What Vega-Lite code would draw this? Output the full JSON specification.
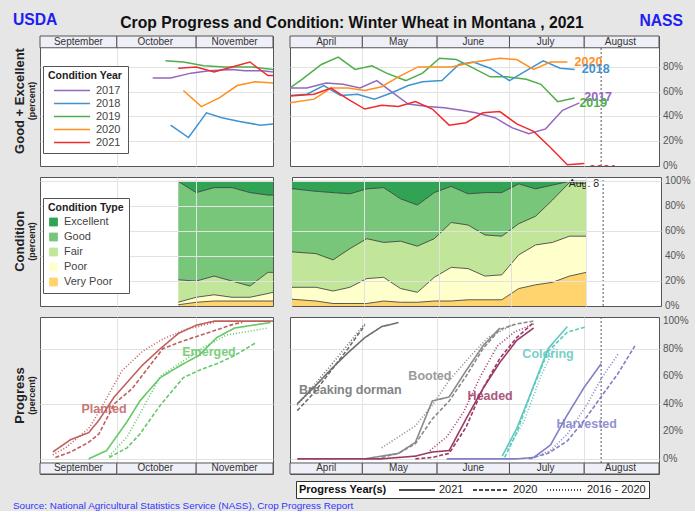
{
"$schema": "https://vega.github.io/schema/vega-lite/v6.json",
"background": "#e6e6e6",
"padding": {"left": 12, "top": 12, "right": 4, "bottom": 0},
"config": {
  "font": "Liberation Sans",
  "view": {"stroke": "#555555", "strokeWidth": 1, "fill": "#ffffff"},
  "axis": {"gridColor": "#e2e2e2", "gridWidth": 1, "labelFont": "Liberation Sans"},
  "legend": {"labelFont": "Liberation Sans", "titleFont": "Liberation Sans"},
  "title": {"font": "Liberation Sans"},
  "text": {"font": "Liberation Sans"}
},
"title": {"text": "Crop Progress and Condition: Winter Wheat in Montana , 2021", "anchor": "middle", "frame": "bounds", "fontSize": 15.7, "fontWeight": "bold", "color": "#111111", "offset": -19},
"datasets": {
  "monthsFall": [
    {"m": "September", "start": "2020-09-01", "end": "2020-10-01", "mid": "2020-09-16"},
    {"m": "October", "start": "2020-10-01", "end": "2020-11-01", "mid": "2020-10-16"},
    {"m": "November", "start": "2020-11-01", "end": "2020-12-01", "mid": "2020-11-16"}
  ],
  "monthsSpring": [
    {"m": "April", "start": "2021-04-01", "end": "2021-05-01", "mid": "2021-04-16"},
    {"m": "May", "start": "2021-05-01", "end": "2021-06-01", "mid": "2021-05-16"},
    {"m": "June", "start": "2021-06-01", "end": "2021-07-01", "mid": "2021-06-16"},
    {"m": "July", "start": "2021-07-01", "end": "2021-08-01", "mid": "2021-07-16"},
    {"m": "August", "start": "2021-08-01", "end": "2021-09-01", "mid": "2021-08-16"}
  ],
  "reportDate": [{"d": "2021-08-08", "label": "Aug.  8"}],
  "pctTicks80": [{"v": 0, "t": "0%"}, {"v": 20, "t": "20%"}, {"v": 40, "t": "40%"}, {"v": 60, "t": "60%"}, {"v": 80, "t": "80%"}],
  "pctTicks100": [{"v": 0, "t": "0%"}, {"v": 20, "t": "20%"}, {"v": 40, "t": "40%"}, {"v": 60, "t": "60%"}, {"v": 80, "t": "80%"}, {"v": 100, "t": "100%"}],
  "condFall": [
    {"year": "2017", "date": "2020-10-15", "pct": 71}, {"year": "2017", "date": "2020-10-22", "pct": 71}, {"year": "2017", "date": "2020-10-30", "pct": 75}, {"year": "2017", "date": "2020-11-06", "pct": 77}, {"year": "2017", "date": "2020-11-15", "pct": 78}, {"year": "2017", "date": "2020-11-20", "pct": 77}, {"year": "2017", "date": "2020-11-27", "pct": 77}, {"year": "2017", "date": "2020-12-01", "pct": 76},
    {"year": "2018", "date": "2020-10-22", "pct": 33}, {"year": "2018", "date": "2020-10-29", "pct": 23}, {"year": "2018", "date": "2020-11-05", "pct": 43}, {"year": "2018", "date": "2020-11-11", "pct": 39}, {"year": "2018", "date": "2020-11-18", "pct": 36}, {"year": "2018", "date": "2020-11-26", "pct": 33}, {"year": "2018", "date": "2020-12-01", "pct": 34},
    {"year": "2019", "date": "2020-10-20", "pct": 85}, {"year": "2019", "date": "2020-10-27", "pct": 84}, {"year": "2019", "date": "2020-11-04", "pct": 81}, {"year": "2019", "date": "2020-11-12", "pct": 80}, {"year": "2019", "date": "2020-11-23", "pct": 80}, {"year": "2019", "date": "2020-12-01", "pct": 78},
    {"year": "2020", "date": "2020-10-27", "pct": 61}, {"year": "2020", "date": "2020-11-03", "pct": 48}, {"year": "2020", "date": "2020-11-10", "pct": 55}, {"year": "2020", "date": "2020-11-17", "pct": 65}, {"year": "2020", "date": "2020-11-24", "pct": 68}, {"year": "2020", "date": "2020-12-01", "pct": 67},
    {"year": "2021", "date": "2020-10-25", "pct": 79}, {"year": "2021", "date": "2020-11-01", "pct": 80}, {"year": "2021", "date": "2020-11-08", "pct": 76}, {"year": "2021", "date": "2020-11-15", "pct": 80}, {"year": "2021", "date": "2020-11-22", "pct": 84}, {"year": "2021", "date": "2020-11-29", "pct": 73}, {"year": "2021", "date": "2020-12-01", "pct": 73}
  ],
  "condSpring": [
    {"year": "2019", "date": "2021-04-01", "pct": 63}, {"year": "2019", "date": "2021-04-06", "pct": 70}, {"year": "2019", "date": "2021-04-14", "pct": 82}, {"year": "2019", "date": "2021-04-21", "pct": 88}, {"year": "2019", "date": "2021-04-28", "pct": 78}, {"year": "2019", "date": "2021-05-05", "pct": 81}, {"year": "2019", "date": "2021-05-11", "pct": 75}, {"year": "2019", "date": "2021-05-19", "pct": 69}, {"year": "2019", "date": "2021-05-26", "pct": 75}, {"year": "2019", "date": "2021-06-02", "pct": 87}, {"year": "2019", "date": "2021-06-09", "pct": 86}, {"year": "2019", "date": "2021-06-15", "pct": 80}, {"year": "2019", "date": "2021-06-23", "pct": 72}, {"year": "2019", "date": "2021-06-30", "pct": 72}, {"year": "2019", "date": "2021-07-08", "pct": 70}, {"year": "2019", "date": "2021-07-14", "pct": 66}, {"year": "2019", "date": "2021-07-21", "pct": 52}, {"year": "2019", "date": "2021-07-28", "pct": 55},
    {"year": "2017", "date": "2021-04-01", "pct": 63}, {"year": "2017", "date": "2021-04-08", "pct": 63}, {"year": "2017", "date": "2021-04-16", "pct": 67}, {"year": "2017", "date": "2021-04-23", "pct": 66}, {"year": "2017", "date": "2021-04-30", "pct": 63}, {"year": "2017", "date": "2021-05-07", "pct": 69}, {"year": "2017", "date": "2021-05-13", "pct": 60}, {"year": "2017", "date": "2021-05-20", "pct": 50}, {"year": "2017", "date": "2021-05-28", "pct": 48}, {"year": "2017", "date": "2021-06-04", "pct": 47}, {"year": "2017", "date": "2021-06-11", "pct": 45}, {"year": "2017", "date": "2021-06-17", "pct": 43}, {"year": "2017", "date": "2021-06-25", "pct": 39}, {"year": "2017", "date": "2021-07-02", "pct": 31}, {"year": "2017", "date": "2021-07-09", "pct": 26}, {"year": "2017", "date": "2021-07-16", "pct": 30}, {"year": "2017", "date": "2021-07-23", "pct": 45}, {"year": "2017", "date": "2021-07-30", "pct": 51},
    {"year": "2018", "date": "2021-04-01", "pct": 57}, {"year": "2018", "date": "2021-04-08", "pct": 58}, {"year": "2018", "date": "2021-04-15", "pct": 65}, {"year": "2018", "date": "2021-04-22", "pct": 57}, {"year": "2018", "date": "2021-04-29", "pct": 58}, {"year": "2018", "date": "2021-05-06", "pct": 54}, {"year": "2018", "date": "2021-05-13", "pct": 59}, {"year": "2018", "date": "2021-05-20", "pct": 65}, {"year": "2018", "date": "2021-05-26", "pct": 68}, {"year": "2018", "date": "2021-06-03", "pct": 69}, {"year": "2018", "date": "2021-06-10", "pct": 82}, {"year": "2018", "date": "2021-06-16", "pct": 84}, {"year": "2018", "date": "2021-06-23", "pct": 79}, {"year": "2018", "date": "2021-07-01", "pct": 69}, {"year": "2018", "date": "2021-07-08", "pct": 77}, {"year": "2018", "date": "2021-07-15", "pct": 85}, {"year": "2018", "date": "2021-07-22", "pct": 79}, {"year": "2018", "date": "2021-07-28", "pct": 78},
    {"year": "2020", "date": "2021-04-01", "pct": 51}, {"year": "2020", "date": "2021-04-11", "pct": 54}, {"year": "2020", "date": "2021-04-18", "pct": 63}, {"year": "2020", "date": "2021-04-25", "pct": 63}, {"year": "2020", "date": "2021-05-02", "pct": 61}, {"year": "2020", "date": "2021-05-09", "pct": 64}, {"year": "2020", "date": "2021-05-16", "pct": 72}, {"year": "2020", "date": "2021-05-24", "pct": 80}, {"year": "2020", "date": "2021-05-31", "pct": 80}, {"year": "2020", "date": "2021-06-07", "pct": 80}, {"year": "2020", "date": "2021-06-14", "pct": 83}, {"year": "2020", "date": "2021-06-20", "pct": 85}, {"year": "2020", "date": "2021-06-27", "pct": 87}, {"year": "2020", "date": "2021-07-04", "pct": 86}, {"year": "2020", "date": "2021-07-11", "pct": 78}, {"year": "2020", "date": "2021-07-18", "pct": 84}, {"year": "2020", "date": "2021-07-25", "pct": 84},
    {"year": "2021", "date": "2021-03-28", "pct": 56}, {"year": "2021", "date": "2021-04-11", "pct": 58}, {"year": "2021", "date": "2021-04-18", "pct": 63}, {"year": "2021", "date": "2021-04-25", "pct": 54}, {"year": "2021", "date": "2021-05-02", "pct": 46}, {"year": "2021", "date": "2021-05-09", "pct": 49}, {"year": "2021", "date": "2021-05-16", "pct": 48}, {"year": "2021", "date": "2021-05-23", "pct": 52}, {"year": "2021", "date": "2021-05-30", "pct": 46}, {"year": "2021", "date": "2021-06-06", "pct": 33}, {"year": "2021", "date": "2021-06-13", "pct": 35}, {"year": "2021", "date": "2021-06-20", "pct": 43}, {"year": "2021", "date": "2021-06-27", "pct": 44}, {"year": "2021", "date": "2021-07-04", "pct": 34}, {"year": "2021", "date": "2021-07-11", "pct": 28}, {"year": "2021", "date": "2021-07-18", "pct": 15}, {"year": "2021", "date": "2021-07-25", "pct": 1}, {"year": "2021", "date": "2021-08-01", "pct": 2}
  ],
  "condSpringLabels": [
    {"year": "2020", "date": "2021-07-28", "pct": 84},
    {"year": "2018", "date": "2021-07-31", "pct": 78},
    {"year": "2017", "date": "2021-08-01", "pct": 56},
    {"year": "2019", "date": "2021-07-30", "pct": 51},
    {"year": "2021", "date": "2021-08-03", "pct": -3}
  ],
  "typeFall": [
    {"date": "2020-10-25", "type": "Very Poor", "level": 1, "pct": 1}, {"date": "2020-10-25", "type": "Poor", "level": 2, "pct": 2}, {"date": "2020-10-25", "type": "Fair", "level": 3, "pct": 18}, {"date": "2020-10-25", "type": "Good", "level": 4, "pct": 79}, {"date": "2020-10-25", "type": "Excellent", "level": 5, "pct": 0},
    {"date": "2020-11-01", "type": "Very Poor", "level": 1, "pct": 3}, {"date": "2020-11-01", "type": "Poor", "level": 2, "pct": 4}, {"date": "2020-11-01", "type": "Fair", "level": 3, "pct": 13}, {"date": "2020-11-01", "type": "Good", "level": 4, "pct": 71}, {"date": "2020-11-01", "type": "Excellent", "level": 5, "pct": 9},
    {"date": "2020-11-08", "type": "Very Poor", "level": 1, "pct": 4}, {"date": "2020-11-08", "type": "Poor", "level": 2, "pct": 5}, {"date": "2020-11-08", "type": "Fair", "level": 3, "pct": 15}, {"date": "2020-11-08", "type": "Good", "level": 4, "pct": 71}, {"date": "2020-11-08", "type": "Excellent", "level": 5, "pct": 5},
    {"date": "2020-11-15", "type": "Very Poor", "level": 1, "pct": 4}, {"date": "2020-11-15", "type": "Poor", "level": 2, "pct": 3}, {"date": "2020-11-15", "type": "Fair", "level": 3, "pct": 13}, {"date": "2020-11-15", "type": "Good", "level": 4, "pct": 75}, {"date": "2020-11-15", "type": "Excellent", "level": 5, "pct": 5},
    {"date": "2020-11-22", "type": "Very Poor", "level": 1, "pct": 4}, {"date": "2020-11-22", "type": "Poor", "level": 2, "pct": 3}, {"date": "2020-11-22", "type": "Fair", "level": 3, "pct": 9}, {"date": "2020-11-22", "type": "Good", "level": 4, "pct": 75}, {"date": "2020-11-22", "type": "Excellent", "level": 5, "pct": 9},
    {"date": "2020-11-29", "type": "Very Poor", "level": 1, "pct": 4}, {"date": "2020-11-29", "type": "Poor", "level": 2, "pct": 6}, {"date": "2020-11-29", "type": "Fair", "level": 3, "pct": 17}, {"date": "2020-11-29", "type": "Good", "level": 4, "pct": 62}, {"date": "2020-11-29", "type": "Excellent", "level": 5, "pct": 11},
    {"date": "2020-12-01", "type": "Very Poor", "level": 1, "pct": 4}, {"date": "2020-12-01", "type": "Poor", "level": 2, "pct": 7}, {"date": "2020-12-01", "type": "Fair", "level": 3, "pct": 16}, {"date": "2020-12-01", "type": "Good", "level": 4, "pct": 62}, {"date": "2020-12-01", "type": "Excellent", "level": 5, "pct": 11}
  ],
  "typeSpring": [
    {"date": "2021-03-28", "type": "Very Poor", "level": 1, "pct": 6}, {"date": "2021-03-28", "type": "Poor", "level": 2, "pct": 9}, {"date": "2021-03-28", "type": "Fair", "level": 3, "pct": 29}, {"date": "2021-03-28", "type": "Good", "level": 4, "pct": 51}, {"date": "2021-03-28", "type": "Excellent", "level": 5, "pct": 5},
    {"date": "2021-04-11", "type": "Very Poor", "level": 1, "pct": 4}, {"date": "2021-04-11", "type": "Poor", "level": 2, "pct": 11}, {"date": "2021-04-11", "type": "Fair", "level": 3, "pct": 27}, {"date": "2021-04-11", "type": "Good", "level": 4, "pct": 50}, {"date": "2021-04-11", "type": "Excellent", "level": 5, "pct": 8},
    {"date": "2021-04-18", "type": "Very Poor", "level": 1, "pct": 2}, {"date": "2021-04-18", "type": "Poor", "level": 2, "pct": 10}, {"date": "2021-04-18", "type": "Fair", "level": 3, "pct": 25}, {"date": "2021-04-18", "type": "Good", "level": 4, "pct": 54}, {"date": "2021-04-18", "type": "Excellent", "level": 5, "pct": 9},
    {"date": "2021-04-25", "type": "Very Poor", "level": 1, "pct": 2}, {"date": "2021-04-25", "type": "Poor", "level": 2, "pct": 13}, {"date": "2021-04-25", "type": "Fair", "level": 3, "pct": 31}, {"date": "2021-04-25", "type": "Good", "level": 4, "pct": 44}, {"date": "2021-04-25", "type": "Excellent", "level": 5, "pct": 10},
    {"date": "2021-05-02", "type": "Very Poor", "level": 1, "pct": 2}, {"date": "2021-05-02", "type": "Poor", "level": 2, "pct": 20}, {"date": "2021-05-02", "type": "Fair", "level": 3, "pct": 32}, {"date": "2021-05-02", "type": "Good", "level": 4, "pct": 40}, {"date": "2021-05-02", "type": "Excellent", "level": 5, "pct": 6},
    {"date": "2021-05-09", "type": "Very Poor", "level": 1, "pct": 4}, {"date": "2021-05-09", "type": "Poor", "level": 2, "pct": 19}, {"date": "2021-05-09", "type": "Fair", "level": 3, "pct": 28}, {"date": "2021-05-09", "type": "Good", "level": 4, "pct": 44}, {"date": "2021-05-09", "type": "Excellent", "level": 5, "pct": 5},
    {"date": "2021-05-16", "type": "Very Poor", "level": 1, "pct": 3}, {"date": "2021-05-16", "type": "Poor", "level": 2, "pct": 11}, {"date": "2021-05-16", "type": "Fair", "level": 3, "pct": 38}, {"date": "2021-05-16", "type": "Good", "level": 4, "pct": 34}, {"date": "2021-05-16", "type": "Excellent", "level": 5, "pct": 14},
    {"date": "2021-05-23", "type": "Very Poor", "level": 1, "pct": 3}, {"date": "2021-05-23", "type": "Poor", "level": 2, "pct": 8}, {"date": "2021-05-23", "type": "Fair", "level": 3, "pct": 37}, {"date": "2021-05-23", "type": "Good", "level": 4, "pct": 33}, {"date": "2021-05-23", "type": "Excellent", "level": 5, "pct": 19},
    {"date": "2021-05-30", "type": "Very Poor", "level": 1, "pct": 4}, {"date": "2021-05-30", "type": "Poor", "level": 2, "pct": 19}, {"date": "2021-05-30", "type": "Fair", "level": 3, "pct": 31}, {"date": "2021-05-30", "type": "Good", "level": 4, "pct": 37}, {"date": "2021-05-30", "type": "Excellent", "level": 5, "pct": 9},
    {"date": "2021-06-06", "type": "Very Poor", "level": 1, "pct": 4}, {"date": "2021-06-06", "type": "Poor", "level": 2, "pct": 27}, {"date": "2021-06-06", "type": "Fair", "level": 3, "pct": 36}, {"date": "2021-06-06", "type": "Good", "level": 4, "pct": 29}, {"date": "2021-06-06", "type": "Excellent", "level": 5, "pct": 4},
    {"date": "2021-06-13", "type": "Very Poor", "level": 1, "pct": 5}, {"date": "2021-06-13", "type": "Poor", "level": 2, "pct": 25}, {"date": "2021-06-13", "type": "Fair", "level": 3, "pct": 35}, {"date": "2021-06-13", "type": "Good", "level": 4, "pct": 25}, {"date": "2021-06-13", "type": "Excellent", "level": 5, "pct": 10},
    {"date": "2021-06-20", "type": "Very Poor", "level": 1, "pct": 5}, {"date": "2021-06-20", "type": "Poor", "level": 2, "pct": 19}, {"date": "2021-06-20", "type": "Fair", "level": 3, "pct": 33}, {"date": "2021-06-20", "type": "Good", "level": 4, "pct": 34}, {"date": "2021-06-20", "type": "Excellent", "level": 5, "pct": 9},
    {"date": "2021-06-27", "type": "Very Poor", "level": 1, "pct": 5}, {"date": "2021-06-27", "type": "Poor", "level": 2, "pct": 20}, {"date": "2021-06-27", "type": "Fair", "level": 3, "pct": 31}, {"date": "2021-06-27", "type": "Good", "level": 4, "pct": 35}, {"date": "2021-06-27", "type": "Excellent", "level": 5, "pct": 9},
    {"date": "2021-07-04", "type": "Very Poor", "level": 1, "pct": 14}, {"date": "2021-07-04", "type": "Poor", "level": 2, "pct": 27}, {"date": "2021-07-04", "type": "Fair", "level": 3, "pct": 25}, {"date": "2021-07-04", "type": "Good", "level": 4, "pct": 32}, {"date": "2021-07-04", "type": "Excellent", "level": 5, "pct": 2},
    {"date": "2021-07-11", "type": "Very Poor", "level": 1, "pct": 17}, {"date": "2021-07-11", "type": "Poor", "level": 2, "pct": 32}, {"date": "2021-07-11", "type": "Fair", "level": 3, "pct": 23}, {"date": "2021-07-11", "type": "Good", "level": 4, "pct": 22}, {"date": "2021-07-11", "type": "Excellent", "level": 5, "pct": 6},
    {"date": "2021-07-18", "type": "Very Poor", "level": 1, "pct": 19}, {"date": "2021-07-18", "type": "Poor", "level": 2, "pct": 32}, {"date": "2021-07-18", "type": "Fair", "level": 3, "pct": 34}, {"date": "2021-07-18", "type": "Good", "level": 4, "pct": 12}, {"date": "2021-07-18", "type": "Excellent", "level": 5, "pct": 3},
    {"date": "2021-07-25", "type": "Very Poor", "level": 1, "pct": 24}, {"date": "2021-07-25", "type": "Poor", "level": 2, "pct": 32}, {"date": "2021-07-25", "type": "Fair", "level": 3, "pct": 43}, {"date": "2021-07-25", "type": "Good", "level": 4, "pct": 1}, {"date": "2021-07-25", "type": "Excellent", "level": 5, "pct": 0},
    {"date": "2021-08-01", "type": "Very Poor", "level": 1, "pct": 27}, {"date": "2021-08-01", "type": "Poor", "level": 2, "pct": 29}, {"date": "2021-08-01", "type": "Fair", "level": 3, "pct": 42}, {"date": "2021-08-01", "type": "Good", "level": 4, "pct": 2}, {"date": "2021-08-01", "type": "Excellent", "level": 5, "pct": 0}
  ],
  "progFall": [
    {"stage": "Planted", "yr": "2020", "date": "2020-09-06", "pct": 5}, {"stage": "Planted", "yr": "2020", "date": "2020-09-13", "pct": 14}, {"stage": "Planted", "yr": "2020", "date": "2020-09-20", "pct": 19}, {"stage": "Planted", "yr": "2020", "date": "2020-09-24", "pct": 28}, {"stage": "Planted", "yr": "2020", "date": "2020-09-30", "pct": 45}, {"stage": "Planted", "yr": "2020", "date": "2020-10-11", "pct": 68}, {"stage": "Planted", "yr": "2020", "date": "2020-10-18", "pct": 80}, {"stage": "Planted", "yr": "2020", "date": "2020-10-25", "pct": 91}, {"stage": "Planted", "yr": "2020", "date": "2020-11-01", "pct": 97}, {"stage": "Planted", "yr": "2020", "date": "2020-11-08", "pct": 100}, {"stage": "Planted", "yr": "2020", "date": "2020-12-01", "pct": 100},
    {"stage": "Planted", "yr": "2019", "date": "2020-09-07", "pct": 1}, {"stage": "Planted", "yr": "2019", "date": "2020-09-13", "pct": 5}, {"stage": "Planted", "yr": "2019", "date": "2020-09-20", "pct": 12}, {"stage": "Planted", "yr": "2019", "date": "2020-09-24", "pct": 18}, {"stage": "Planted", "yr": "2019", "date": "2020-09-30", "pct": 40}, {"stage": "Planted", "yr": "2019", "date": "2020-10-07", "pct": 51}, {"stage": "Planted", "yr": "2019", "date": "2020-10-19", "pct": 80}, {"stage": "Planted", "yr": "2019", "date": "2020-10-26", "pct": 85}, {"stage": "Planted", "yr": "2019", "date": "2020-11-03", "pct": 90}, {"stage": "Planted", "yr": "2019", "date": "2020-11-16", "pct": 98}, {"stage": "Planted", "yr": "2019", "date": "2020-11-19", "pct": 99},
    {"stage": "Planted", "yr": "2015 - 2019", "date": "2020-09-06", "pct": 3}, {"stage": "Planted", "yr": "2015 - 2019", "date": "2020-09-11", "pct": 8}, {"stage": "Planted", "yr": "2015 - 2019", "date": "2020-09-20", "pct": 22}, {"stage": "Planted", "yr": "2015 - 2019", "date": "2020-09-24", "pct": 34}, {"stage": "Planted", "yr": "2015 - 2019", "date": "2020-10-03", "pct": 64}, {"stage": "Planted", "yr": "2015 - 2019", "date": "2020-10-11", "pct": 78}, {"stage": "Planted", "yr": "2015 - 2019", "date": "2020-10-19", "pct": 87}, {"stage": "Planted", "yr": "2015 - 2019", "date": "2020-10-28", "pct": 94}, {"stage": "Planted", "yr": "2015 - 2019", "date": "2020-11-08", "pct": 99},
    {"stage": "Emerged", "yr": "2020", "date": "2020-09-20", "pct": 0}, {"stage": "Emerged", "yr": "2020", "date": "2020-09-27", "pct": 6}, {"stage": "Emerged", "yr": "2020", "date": "2020-10-05", "pct": 27}, {"stage": "Emerged", "yr": "2020", "date": "2020-10-10", "pct": 42}, {"stage": "Emerged", "yr": "2020", "date": "2020-10-18", "pct": 59}, {"stage": "Emerged", "yr": "2020", "date": "2020-10-26", "pct": 68}, {"stage": "Emerged", "yr": "2020", "date": "2020-11-02", "pct": 75}, {"stage": "Emerged", "yr": "2020", "date": "2020-11-09", "pct": 88}, {"stage": "Emerged", "yr": "2020", "date": "2020-11-16", "pct": 95}, {"stage": "Emerged", "yr": "2020", "date": "2020-11-30", "pct": 99},
    {"stage": "Emerged", "yr": "2019", "date": "2020-09-28", "pct": 1}, {"stage": "Emerged", "yr": "2019", "date": "2020-10-05", "pct": 8}, {"stage": "Emerged", "yr": "2019", "date": "2020-10-10", "pct": 18}, {"stage": "Emerged", "yr": "2019", "date": "2020-10-18", "pct": 39}, {"stage": "Emerged", "yr": "2019", "date": "2020-10-27", "pct": 59}, {"stage": "Emerged", "yr": "2019", "date": "2020-11-03", "pct": 65}, {"stage": "Emerged", "yr": "2019", "date": "2020-11-09", "pct": 69}, {"stage": "Emerged", "yr": "2019", "date": "2020-11-16", "pct": 75}, {"stage": "Emerged", "yr": "2019", "date": "2020-11-24", "pct": 84},
    {"stage": "Emerged", "yr": "2015 - 2019", "date": "2020-09-28", "pct": 2}, {"stage": "Emerged", "yr": "2015 - 2019", "date": "2020-10-05", "pct": 16}, {"stage": "Emerged", "yr": "2015 - 2019", "date": "2020-10-11", "pct": 36}, {"stage": "Emerged", "yr": "2015 - 2019", "date": "2020-10-18", "pct": 60}, {"stage": "Emerged", "yr": "2015 - 2019", "date": "2020-10-26", "pct": 70}, {"stage": "Emerged", "yr": "2015 - 2019", "date": "2020-11-04", "pct": 81}, {"stage": "Emerged", "yr": "2015 - 2019", "date": "2020-11-13", "pct": 90}, {"stage": "Emerged", "yr": "2015 - 2019", "date": "2020-11-23", "pct": 93}, {"stage": "Emerged", "yr": "2015 - 2019", "date": "2020-11-29", "pct": 95}
  ],
  "progFallLabels": [
    {"stage": "Planted", "label": "Planted", "date": "2020-09-26", "pct": 36},
    {"stage": "Emerged", "label": "Emerged", "date": "2020-11-06", "pct": 77.5}
  ],
  "progSpring": [
    {"stage": "Breaking dormancy", "yr": "2021", "date": "2021-04-04", "pct": 40}, {"stage": "Breaking dormancy", "yr": "2021", "date": "2021-04-11", "pct": 52}, {"stage": "Breaking dormancy", "yr": "2021", "date": "2021-04-18", "pct": 65}, {"stage": "Breaking dormancy", "yr": "2021", "date": "2021-04-25", "pct": 77}, {"stage": "Breaking dormancy", "yr": "2021", "date": "2021-05-02", "pct": 88}, {"stage": "Breaking dormancy", "yr": "2021", "date": "2021-05-09", "pct": 96}, {"stage": "Breaking dormancy", "yr": "2021", "date": "2021-05-16", "pct": 99},
    {"stage": "Breaking dormancy", "yr": "2020", "date": "2021-04-04", "pct": 35}, {"stage": "Breaking dormancy", "yr": "2020", "date": "2021-04-11", "pct": 48}, {"stage": "Breaking dormancy", "yr": "2020", "date": "2021-04-18", "pct": 64}, {"stage": "Breaking dormancy", "yr": "2020", "date": "2021-04-25", "pct": 80}, {"stage": "Breaking dormancy", "yr": "2020", "date": "2021-05-02", "pct": 97},
    {"stage": "Breaking dormancy", "yr": "2016 - 2020", "date": "2021-04-04", "pct": 39}, {"stage": "Breaking dormancy", "yr": "2016 - 2020", "date": "2021-04-18", "pct": 68}, {"stage": "Breaking dormancy", "yr": "2016 - 2020", "date": "2021-05-02", "pct": 98},
    {"stage": "Booted", "yr": "2021", "date": "2021-05-02", "pct": 0}, {"stage": "Booted", "yr": "2021", "date": "2021-05-09", "pct": 2}, {"stage": "Booted", "yr": "2021", "date": "2021-05-16", "pct": 4}, {"stage": "Booted", "yr": "2021", "date": "2021-05-23", "pct": 12}, {"stage": "Booted", "yr": "2021", "date": "2021-05-30", "pct": 42}, {"stage": "Booted", "yr": "2021", "date": "2021-06-06", "pct": 45}, {"stage": "Booted", "yr": "2021", "date": "2021-06-13", "pct": 64}, {"stage": "Booted", "yr": "2021", "date": "2021-06-20", "pct": 82}, {"stage": "Booted", "yr": "2021", "date": "2021-06-27", "pct": 95},
    {"stage": "Booted", "yr": "2020", "date": "2021-05-09", "pct": 1}, {"stage": "Booted", "yr": "2020", "date": "2021-05-16", "pct": 4}, {"stage": "Booted", "yr": "2020", "date": "2021-05-23", "pct": 11}, {"stage": "Booted", "yr": "2020", "date": "2021-05-30", "pct": 29}, {"stage": "Booted", "yr": "2020", "date": "2021-06-06", "pct": 42}, {"stage": "Booted", "yr": "2020", "date": "2021-06-13", "pct": 60}, {"stage": "Booted", "yr": "2020", "date": "2021-06-20", "pct": 80}, {"stage": "Booted", "yr": "2020", "date": "2021-06-27", "pct": 94}, {"stage": "Booted", "yr": "2020", "date": "2021-07-04", "pct": 98}, {"stage": "Booted", "yr": "2020", "date": "2021-07-11", "pct": 100},
    {"stage": "Booted", "yr": "2016 - 2020", "date": "2021-05-09", "pct": 8}, {"stage": "Booted", "yr": "2016 - 2020", "date": "2021-05-23", "pct": 24}, {"stage": "Booted", "yr": "2016 - 2020", "date": "2021-05-30", "pct": 39}, {"stage": "Booted", "yr": "2016 - 2020", "date": "2021-06-06", "pct": 57}, {"stage": "Booted", "yr": "2016 - 2020", "date": "2021-06-14", "pct": 73}, {"stage": "Booted", "yr": "2016 - 2020", "date": "2021-06-22", "pct": 88}, {"stage": "Booted", "yr": "2016 - 2020", "date": "2021-07-03", "pct": 98},
    {"stage": "Headed", "yr": "2021", "date": "2021-04-04", "pct": 0}, {"stage": "Headed", "yr": "2021", "date": "2021-05-09", "pct": 0}, {"stage": "Headed", "yr": "2021", "date": "2021-05-23", "pct": 2}, {"stage": "Headed", "yr": "2021", "date": "2021-05-30", "pct": 5}, {"stage": "Headed", "yr": "2021", "date": "2021-06-06", "pct": 6}, {"stage": "Headed", "yr": "2021", "date": "2021-06-13", "pct": 29}, {"stage": "Headed", "yr": "2021", "date": "2021-06-20", "pct": 51}, {"stage": "Headed", "yr": "2021", "date": "2021-06-27", "pct": 70}, {"stage": "Headed", "yr": "2021", "date": "2021-07-04", "pct": 86}, {"stage": "Headed", "yr": "2021", "date": "2021-07-11", "pct": 95},
    {"stage": "Headed", "yr": "2020", "date": "2021-05-23", "pct": 0}, {"stage": "Headed", "yr": "2020", "date": "2021-05-30", "pct": 1}, {"stage": "Headed", "yr": "2020", "date": "2021-06-06", "pct": 4}, {"stage": "Headed", "yr": "2020", "date": "2021-06-13", "pct": 23}, {"stage": "Headed", "yr": "2020", "date": "2021-06-20", "pct": 51}, {"stage": "Headed", "yr": "2020", "date": "2021-06-27", "pct": 73}, {"stage": "Headed", "yr": "2020", "date": "2021-07-04", "pct": 88}, {"stage": "Headed", "yr": "2020", "date": "2021-07-11", "pct": 99},
    {"stage": "Headed", "yr": "2016 - 2020", "date": "2021-05-29", "pct": 6}, {"stage": "Headed", "yr": "2016 - 2020", "date": "2021-06-05", "pct": 16}, {"stage": "Headed", "yr": "2016 - 2020", "date": "2021-06-12", "pct": 34}, {"stage": "Headed", "yr": "2016 - 2020", "date": "2021-06-19", "pct": 60}, {"stage": "Headed", "yr": "2016 - 2020", "date": "2021-06-26", "pct": 82}, {"stage": "Headed", "yr": "2016 - 2020", "date": "2021-07-03", "pct": 92}, {"stage": "Headed", "yr": "2016 - 2020", "date": "2021-07-11", "pct": 98},
    {"stage": "Coloring", "yr": "2021", "date": "2021-06-28", "pct": 2}, {"stage": "Coloring", "yr": "2021", "date": "2021-07-04", "pct": 22}, {"stage": "Coloring", "yr": "2021", "date": "2021-07-09", "pct": 44}, {"stage": "Coloring", "yr": "2021", "date": "2021-07-17", "pct": 80}, {"stage": "Coloring", "yr": "2021", "date": "2021-07-25", "pct": 96},
    {"stage": "Coloring", "yr": "2020", "date": "2021-06-29", "pct": 1}, {"stage": "Coloring", "yr": "2020", "date": "2021-07-04", "pct": 19}, {"stage": "Coloring", "yr": "2020", "date": "2021-07-10", "pct": 48}, {"stage": "Coloring", "yr": "2020", "date": "2021-07-17", "pct": 78}, {"stage": "Coloring", "yr": "2020", "date": "2021-07-25", "pct": 92}, {"stage": "Coloring", "yr": "2020", "date": "2021-08-02", "pct": 96},
    {"stage": "Coloring", "yr": "2016 - 2020", "date": "2021-06-30", "pct": 7}, {"stage": "Coloring", "yr": "2016 - 2020", "date": "2021-07-07", "pct": 27}, {"stage": "Coloring", "yr": "2016 - 2020", "date": "2021-07-14", "pct": 60}, {"stage": "Coloring", "yr": "2016 - 2020", "date": "2021-07-20", "pct": 82},
    {"stage": "Harvested", "yr": "2021", "date": "2021-06-05", "pct": 0}, {"stage": "Harvested", "yr": "2021", "date": "2021-07-04", "pct": 0}, {"stage": "Harvested", "yr": "2021", "date": "2021-07-11", "pct": 1}, {"stage": "Harvested", "yr": "2021", "date": "2021-07-18", "pct": 10}, {"stage": "Harvested", "yr": "2021", "date": "2021-07-25", "pct": 32}, {"stage": "Harvested", "yr": "2021", "date": "2021-08-01", "pct": 52}, {"stage": "Harvested", "yr": "2021", "date": "2021-08-08", "pct": 69},
    {"stage": "Harvested", "yr": "2020", "date": "2021-07-09", "pct": 0}, {"stage": "Harvested", "yr": "2020", "date": "2021-07-17", "pct": 4}, {"stage": "Harvested", "yr": "2020", "date": "2021-07-25", "pct": 13}, {"stage": "Harvested", "yr": "2020", "date": "2021-08-01", "pct": 28}, {"stage": "Harvested", "yr": "2020", "date": "2021-08-08", "pct": 45}, {"stage": "Harvested", "yr": "2020", "date": "2021-08-15", "pct": 62}, {"stage": "Harvested", "yr": "2020", "date": "2021-08-22", "pct": 82},
    {"stage": "Harvested", "yr": "2016 - 2020", "date": "2021-07-10", "pct": 0}, {"stage": "Harvested", "yr": "2016 - 2020", "date": "2021-07-18", "pct": 6}, {"stage": "Harvested", "yr": "2016 - 2020", "date": "2021-07-25", "pct": 18}, {"stage": "Harvested", "yr": "2016 - 2020", "date": "2021-08-02", "pct": 39}, {"stage": "Harvested", "yr": "2016 - 2020", "date": "2021-08-08", "pct": 58}, {"stage": "Harvested", "yr": "2016 - 2020", "date": "2021-08-15", "pct": 76}
  ],
  "progSpringLabels": [
    {"stage": "Breaking dormancy", "label": "Breaking dorman", "date": "2021-04-26", "pct": 50},
    {"stage": "Booted", "label": "Booted", "date": "2021-05-29", "pct": 60},
    {"stage": "Headed", "label": "Headed", "date": "2021-06-23", "pct": 46},
    {"stage": "Coloring", "label": "Coloring", "date": "2021-07-17", "pct": 76},
    {"stage": "Harvested", "label": "Harvested", "date": "2021-08-02", "pct": 25}
  ]
},
"spacing": 3,
"resolve": {"scale": {"x": "independent", "y": "independent", "color": "independent", "strokeDash": "independent", "strokeWidth": "independent"}},
"vconcat": [
  {
    "hconcat": [
      {
        "title": {"text": "USDA", "anchor": "start", "frame": "bounds", "fontSize": 15.7, "fontWeight": "bold", "color": "#2020f0", "offset": 6},
        "resolve": {"scale": {"x": "independent", "y": "independent", "color": "independent"}},
        "vconcat": [
          {
            "width": 233, "height": 130,
            "title": {"text": "Good + Excellent", "subtitle": "(percent)", "orient": "left", "anchor": "middle", "fontSize": 13, "fontWeight": "bold", "color": "#222222", "subtitleFontSize": 9, "subtitleFontWeight": "bold", "subtitleColor": "#222222", "subtitlePadding": 1, "offset": 3},
            "layer": [
              {"data": {"name": "monthsFall"}, "mark": {"type": "rect", "fill": "#efeff7", "stroke": "#555555", "strokeWidth": 1},
               "encoding": {
                 "x": {"field": "start", "type": "temporal", "scale": {"domain": [{"year": 2020, "month": 9, "date": 1}, {"year": 2020, "month": 12, "date": 1}]}, "axis": {"values": [{"year": 2020, "month": 10, "date": 1}, {"year": 2020, "month": 11, "date": 1}], "grid": true, "labels": false, "ticks": false, "domain": false, "title": null}},
                 "x2": {"field": "end"},
                 "y": {"datum": 95.5, "type": "quantitative", "scale": {"domain": [0, 105], "nice": false, "zero": false}, "axis": {"values": [20, 40, 60, 80], "grid": true, "labels": false, "ticks": false, "domain": false, "title": null}},
                 "y2": {"datum": 105}
               }},
              {"data": {"name": "monthsFall"}, "mark": {"type": "text", "fontSize": 10, "color": "#333333"},
               "encoding": {"x": {"field": "mid", "type": "temporal"}, "y": {"datum": 100.25, "type": "quantitative"}, "text": {"field": "m"}}},
              {"data": {"name": "condFall"}, "mark": {"type": "line", "strokeWidth": 1.5, "clip": true},
               "encoding": {
                 "x": {"field": "date", "type": "temporal"},
                 "y": {"field": "pct", "type": "quantitative"},
                 "color": {"field": "year", "type": "nominal", "scale": {"domain": ["2017", "2018", "2019", "2020", "2021"], "range": ["#9467bd", "#3f93cf", "#4eae4b", "#ff8f1f", "#ee2b2f"]},
                   "legend": {"title": "Condition Year", "orient": "none", "legendX": 3, "legendY": 30, "zindex": 3, "titleFontSize": 10.5, "titleFontWeight": "bold", "titleColor": "#222222", "titlePadding": 3, "labelFontSize": 11, "labelColor": "#444444", "labelOffset": 36, "symbolType": "M0,0H7.2", "symbolSize": 100, "symbolStrokeWidth": 1.6, "rowPadding": 2, "strokeColor": "#555555", "fillColor": "#ffffff", "padding": 5}}
               }}
            ]
          }
        ]
      },
      {
        "width": 369, "height": 130,
        "title": {"text": "NASS", "anchor": "end", "frame": "bounds", "fontSize": 15.7, "fontWeight": "bold", "color": "#2020f0", "offset": 6},
        "layer": [
          {"data": {"name": "monthsSpring"}, "mark": {"type": "rect", "fill": "#efeff7", "stroke": "#555555", "strokeWidth": 1},
           "encoding": {
             "x": {"field": "start", "type": "temporal", "scale": {"domain": [{"year": 2021, "month": 4, "date": 1}, {"year": 2021, "month": 9, "date": 1}]}, "axis": {"values": [{"year": 2021, "month": 5, "date": 1}, {"year": 2021, "month": 6, "date": 1}, {"year": 2021, "month": 7, "date": 1}, {"year": 2021, "month": 8, "date": 1}], "grid": true, "labels": false, "ticks": false, "domain": false, "title": null}},
             "x2": {"field": "end"},
             "y": {"datum": 95.5, "type": "quantitative", "scale": {"domain": [0, 105], "nice": false, "zero": false}, "axis": {"values": [20, 40, 60, 80], "grid": true, "labels": false, "ticks": false, "domain": false, "title": null}},
             "y2": {"datum": 105}
           }},
          {"data": {"name": "monthsSpring"}, "mark": {"type": "text", "fontSize": 10, "color": "#333333"},
           "encoding": {"x": {"field": "mid", "type": "temporal"}, "y": {"datum": 100.25, "type": "quantitative"}, "text": {"field": "m"}}},
          {"data": {"name": "pctTicks80"}, "mark": {"type": "text", "align": "left", "baseline": "middle", "dx": 4, "fontSize": 10, "color": "#555555"},
           "encoding": {"x": {"datum": {"year": 2021, "month": 9, "date": 1}, "type": "temporal"}, "y": {"field": "v", "type": "quantitative"}, "text": {"field": "t"}}},
          {"data": {"name": "reportDate"}, "mark": {"type": "rule", "stroke": "#555555", "strokeDash": [2, 2], "strokeWidth": 1},
           "encoding": {"x": {"field": "d", "type": "temporal"}, "y": {"datum": 0, "type": "quantitative"}, "y2": {"datum": 95.5}}},
          {"data": {"name": "condSpring"}, "mark": {"type": "line", "strokeWidth": 1.5, "clip": true},
           "encoding": {
             "x": {"field": "date", "type": "temporal"},
             "y": {"field": "pct", "type": "quantitative"},
             "color": {"field": "year", "type": "nominal", "scale": {"domain": ["2017", "2018", "2019", "2020", "2021"], "range": ["#9467bd", "#3f93cf", "#4eae4b", "#ff8f1f", "#ee2b2f"]}, "legend": null}
           }},
          {"data": {"name": "condSpringLabels"}, "mark": {"type": "text", "align": "left", "baseline": "middle", "fontSize": 12.5, "fontWeight": "bold", "clip": true},
           "encoding": {
             "x": {"field": "date", "type": "temporal"},
             "y": {"field": "pct", "type": "quantitative"},
             "text": {"field": "year"},
             "color": {"field": "year", "type": "nominal", "legend": null}
           }}
        ]
      }
    ],
    "spacing": 15,
    "resolve": {"scale": {"x": "independent", "y": "independent", "color": "independent"}}
  },
  {
    "hconcat": [
      {
        "width": 233, "height": 129,
        "title": {"text": "Condition", "subtitle": "(percent)", "orient": "left", "anchor": "middle", "fontSize": 13, "fontWeight": "bold", "color": "#222222", "subtitleFontSize": 9, "subtitleFontWeight": "bold", "subtitleColor": "#222222", "subtitlePadding": 1, "offset": 3},
        "data": {"name": "typeFall"},
        "mark": {"type": "area", "opacity": 1, "line": {"stroke": "#333333", "strokeWidth": 0.8}},
        "encoding": {
          "x": {"field": "date", "type": "temporal", "scale": {"domain": [{"year": 2020, "month": 9, "date": 1}, {"year": 2020, "month": 12, "date": 1}]}, "axis": {"values": [{"year": 2020, "month": 10, "date": 1}, {"year": 2020, "month": 11, "date": 1}], "grid": true, "labels": false, "ticks": false, "domain": false, "title": null, "zindex": 1}},
          "y": {"field": "pct", "type": "quantitative", "stack": "zero", "scale": {"domain": [0, 103.5], "nice": false, "zero": false}, "axis": {"values": [20, 40, 60, 80, 100], "grid": true, "labels": false, "ticks": false, "domain": false, "title": null, "zindex": 1}},
          "order": {"field": "level", "type": "quantitative"},
          "color": {"field": "type", "type": "nominal", "scale": {"domain": ["Excellent", "Good", "Fair", "Poor", "Very Poor"], "range": ["#31a354", "#78c679", "#c2e699", "#ffffcc", "#ffd36e"]},
            "legend": {"title": "Condition Type", "orient": "none", "legendX": 3, "legendY": 21, "zindex": 3, "titleFontSize": 10.5, "titleFontWeight": "bold", "titleColor": "#222222", "titlePadding": 3, "labelFontSize": 11, "labelColor": "#444444", "labelOffset": 5, "symbolType": "square", "symbolSize": 64, "symbolOpacity": 1, "symbolStrokeColor": "#333333", "symbolStrokeWidth": 0.8, "rowPadding": 2, "strokeColor": "#555555", "fillColor": "#ffffff", "padding": 5}}
        }
      },
      {
        "width": 369, "height": 129,
        "layer": [
          {"data": {"name": "typeSpring"}, "mark": {"type": "area", "opacity": 1, "clip": true, "line": {"stroke": "#333333", "strokeWidth": 0.8}},
           "encoding": {
             "x": {"field": "date", "type": "temporal", "scale": {"domain": [{"year": 2021, "month": 4, "date": 1}, {"year": 2021, "month": 9, "date": 1}]}, "axis": {"values": [{"year": 2021, "month": 5, "date": 1}, {"year": 2021, "month": 6, "date": 1}, {"year": 2021, "month": 7, "date": 1}, {"year": 2021, "month": 8, "date": 1}], "grid": true, "labels": false, "ticks": false, "domain": false, "title": null, "zindex": 1}},
             "y": {"field": "pct", "type": "quantitative", "stack": "zero", "scale": {"domain": [0, 103.5], "nice": false, "zero": false}, "axis": {"values": [20, 40, 60, 80, 100], "grid": true, "labels": false, "ticks": false, "domain": false, "title": null, "zindex": 1}},
             "order": {"field": "level", "type": "quantitative"},
             "color": {"field": "type", "type": "nominal", "scale": {"domain": ["Excellent", "Good", "Fair", "Poor", "Very Poor"], "range": ["#31a354", "#78c679", "#c2e699", "#ffffcc", "#ffd36e"]}, "legend": null}
           }},
          {"data": {"name": "pctTicks100"}, "mark": {"type": "text", "align": "left", "baseline": "middle", "dx": 4, "fontSize": 10, "color": "#555555"},
           "encoding": {"x": {"datum": {"year": 2021, "month": 9, "date": 1}, "type": "temporal"}, "y": {"field": "v", "type": "quantitative"}, "text": {"field": "t"}}},
          {"data": {"name": "reportDate"}, "mark": {"type": "rule", "stroke": "#555555", "strokeDash": [2, 2], "strokeWidth": 1},
           "encoding": {"x": {"field": "d", "type": "temporal"}, "y": {"datum": 0, "type": "quantitative"}, "y2": {"datum": 103.5}}},
          {"data": {"name": "reportDate"}, "mark": {"type": "text", "align": "right", "baseline": "middle", "dx": -4, "fontSize": 10.5, "color": "#222222"},
           "encoding": {"x": {"field": "d", "type": "temporal"}, "y": {"datum": 98, "type": "quantitative"}, "text": {"field": "label"}}}
        ]
      }
    ],
    "spacing": 15,
    "resolve": {"scale": {"x": "independent", "y": "independent", "color": "independent"}}
  },
  {
    "title": {"text": "Source: National Agricultural Statistics Service (NASS), Crop Progress Report", "orient": "bottom", "anchor": "start", "frame": "bounds", "fontSize": 9.9, "fontWeight": "normal", "color": "#3333ff", "offset": 2},
    "hconcat": [
      {
        "width": 233, "height": 157,
        "title": {"text": "Progress", "subtitle": "(percent)", "orient": "left", "anchor": "middle", "fontSize": 13, "fontWeight": "bold", "color": "#222222", "subtitleFontSize": 9, "subtitleFontWeight": "bold", "subtitleColor": "#222222", "subtitlePadding": 1, "offset": 3},
        "layer": [
          {"data": {"name": "monthsFall"}, "mark": {"type": "rect", "fill": "#efeff7", "stroke": "#555555", "strokeWidth": 1},
           "encoding": {
             "x": {"field": "start", "type": "temporal", "scale": {"domain": [{"year": 2020, "month": 9, "date": 1}, {"year": 2020, "month": 12, "date": 1}]}, "axis": {"values": [{"year": 2020, "month": 10, "date": 1}, {"year": 2020, "month": 11, "date": 1}], "grid": true, "labels": false, "ticks": false, "domain": false, "title": null}},
             "x2": {"field": "end"},
             "y": {"datum": -11, "type": "quantitative", "scale": {"domain": [-11, 103], "nice": false, "zero": false}, "axis": {"values": [0, 20, 40, 60, 80, 100], "grid": true, "labels": false, "ticks": false, "domain": false, "title": null}},
             "y2": {"datum": -3}
           }},
          {"data": {"name": "monthsFall"}, "mark": {"type": "text", "fontSize": 10, "color": "#333333"},
           "encoding": {"x": {"field": "mid", "type": "temporal"}, "y": {"datum": -7, "type": "quantitative"}, "text": {"field": "m"}}},
          {"data": {"name": "progFall"}, "mark": {"type": "line", "clip": true},
           "encoding": {
             "x": {"field": "date", "type": "temporal"},
             "y": {"field": "pct", "type": "quantitative"},
             "color": {"field": "stage", "type": "nominal", "scale": {"domain": ["Planted", "Emerged"], "range": ["#c0605e", "#66c866"]}, "legend": null},
             "strokeDash": {"field": "yr", "type": "nominal", "scale": {"domain": ["2020", "2019", "2015 - 2019"], "range": [[1, 0], [4, 2], [1, 2]]}, "legend": null},
             "strokeWidth": {"field": "yr", "type": "nominal", "scale": {"domain": ["2020", "2019", "2015 - 2019"], "range": [1.6, 1.6, 1.1]}, "legend": null}
           }},
          {"data": {"name": "progFallLabels"}, "mark": {"type": "text", "fontSize": 12.5, "fontWeight": "bold", "opacity": 0.85},
           "encoding": {
             "x": {"field": "date", "type": "temporal"},
             "y": {"field": "pct", "type": "quantitative"},
             "text": {"field": "label"},
             "color": {"field": "stage", "type": "nominal", "legend": null}
           }},
          {"mark": {"type": "text", "text": "2020", "fontSize": 14, "fontWeight": "bold", "color": "#1a1aee"},
           "encoding": {"x": {"datum": {"year": 2020, "month": 11, "date": 22}, "type": "temporal"}, "y": {"datum": 8.5, "type": "quantitative"}}}
        ]
      },
      {
        "width": 369, "height": 157,
        "layer": [
          {"data": {"name": "monthsSpring"}, "mark": {"type": "rect", "fill": "#efeff7", "stroke": "#555555", "strokeWidth": 1},
           "encoding": {
             "x": {"field": "start", "type": "temporal", "scale": {"domain": [{"year": 2021, "month": 4, "date": 1}, {"year": 2021, "month": 9, "date": 1}]}, "axis": {"values": [{"year": 2021, "month": 5, "date": 1}, {"year": 2021, "month": 6, "date": 1}, {"year": 2021, "month": 7, "date": 1}, {"year": 2021, "month": 8, "date": 1}], "grid": true, "labels": false, "ticks": false, "domain": false, "title": null}},
             "x2": {"field": "end"},
             "y": {"datum": -11, "type": "quantitative", "scale": {"domain": [-11, 103], "nice": false, "zero": false}, "axis": {"values": [0, 20, 40, 60, 80, 100], "grid": true, "labels": false, "ticks": false, "domain": false, "title": null}},
             "y2": {"datum": -3}
           }},
          {"data": {"name": "monthsSpring"}, "mark": {"type": "text", "fontSize": 10, "color": "#333333"},
           "encoding": {"x": {"field": "mid", "type": "temporal"}, "y": {"datum": -7, "type": "quantitative"}, "text": {"field": "m"}}},
          {"data": {"name": "pctTicks100"}, "mark": {"type": "text", "align": "left", "baseline": "middle", "dx": 4, "fontSize": 10, "color": "#555555"},
           "encoding": {"x": {"datum": {"year": 2021, "month": 9, "date": 1}, "type": "temporal"}, "y": {"field": "v", "type": "quantitative"}, "text": {"field": "t"}}},
          {"data": {"name": "reportDate"}, "mark": {"type": "rule", "stroke": "#555555", "strokeDash": [2, 2], "strokeWidth": 1},
           "encoding": {"x": {"field": "d", "type": "temporal"}, "y": {"datum": -3, "type": "quantitative"}, "y2": {"datum": 103}}},
          {"data": {"name": "progSpring"}, "mark": {"type": "line", "clip": true},
           "encoding": {
             "x": {"field": "date", "type": "temporal"},
             "y": {"field": "pct", "type": "quantitative"},
             "color": {"field": "stage", "type": "nominal", "scale": {"domain": ["Breaking dormancy", "Booted", "Headed", "Coloring", "Harvested"], "range": ["#6e6e6e", "#8a8a8a", "#9b3a66", "#5fc9c0", "#7f7fc6"]}, "legend": null},
             "strokeDash": {"field": "yr", "type": "nominal", "scale": {"domain": ["2021", "2020", "2016 - 2020"], "range": [[1, 0], [4, 2], [1, 2]]},
               "legend": {"title": "Progress Year(s)", "orient": "none", "legendX": 6, "legendY": 164, "direction": "horizontal", "titleOrient": "left", "titleFontSize": 11, "titleFontWeight": "bold", "titleColor": "#111111", "titlePadding": 11, "labelFontSize": 11, "labelColor": "#222222", "labelOffset": 29, "symbolType": "M-1,0H6.2", "symbolSize": 100, "symbolStrokeWidth": 1.6, "symbolStrokeColor": "#111111", "columnPadding": 5, "strokeColor": "#333333", "fillColor": "#ffffff", "padding": 3}},
             "strokeWidth": {"field": "yr", "type": "nominal", "scale": {"domain": ["2021", "2020", "2016 - 2020"], "range": [1.6, 1.6, 1.1]}, "legend": null}
           }},
          {"data": {"name": "progSpringLabels"}, "mark": {"type": "text", "fontSize": 12.5, "fontWeight": "bold", "opacity": 0.85},
           "encoding": {
             "x": {"field": "date", "type": "temporal"},
             "y": {"field": "pct", "type": "quantitative"},
             "text": {"field": "label"},
             "color": {"field": "stage", "type": "nominal", "legend": null}
           }},
          {"mark": {"type": "text", "text": "2021", "fontSize": 14, "fontWeight": "bold", "color": "#1a1aee"},
           "encoding": {"x": {"datum": {"year": 2021, "month": 6, "date": 30}, "type": "temporal"}, "y": {"datum": 8.5, "type": "quantitative"}}}
        ]
      }
    ],
    "spacing": 15,
    "resolve": {"scale": {"x": "independent", "y": "independent", "color": "independent", "strokeDash": "independent", "strokeWidth": "independent"}}
  }
]
}
